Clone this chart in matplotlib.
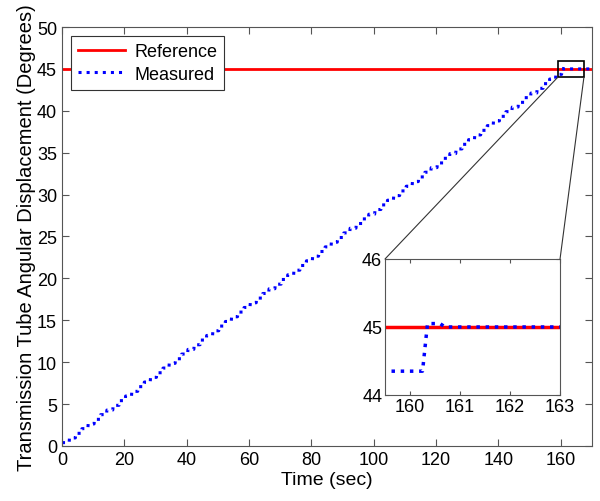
import matplotlib
matplotlib.use('Agg')
import matplotlib.pyplot as plt
from matplotlib.patches import Rectangle, ConnectionPatch
import numpy as np

plt.rcParams['font.family'] = ['Liberation Sans', 'DejaVu Sans']

# reference angle (deg)
ref_level = 45.0

# measured staircase: step start times (sec) and levels (deg)
step_times = [0.0] + [2.3 + 2 * k for k in range(79)]
step_levels = [0.40, 0.96, 1.51, 2.07, 2.63, 3.18, 3.74, 4.29, 4.85, 5.41,
               5.96, 6.52, 7.08, 7.63, 8.19, 8.74, 9.30, 9.86, 10.41, 10.97,
               11.53, 12.08, 12.64, 13.19, 13.75, 14.31, 14.86, 15.42, 15.98, 16.53,
               17.09, 17.65, 18.20, 18.76, 19.31, 19.87, 20.43, 20.98, 21.54, 22.10,
               22.65, 23.21, 23.76, 24.32, 24.88, 25.43, 25.99, 26.55, 27.10, 27.66,
               28.22, 28.77, 29.33, 29.88, 30.44, 31.00, 31.55, 32.11, 32.67, 33.22,
               33.78, 34.33, 34.89, 35.45, 36.00, 36.56, 37.12, 37.67, 38.23, 38.79,
               39.34, 39.90, 40.45, 41.01, 41.57, 42.12, 42.68, 43.24, 43.79, 44.35]
# final settling: overshoot then hold
end_times = [160.25, 160.35, 160.6, 160.7, 170.0]
end_levels = [44.35, 45.05, 45.05, 45.0, 45.0]

# build the staircase path
mx, my = [], []
for i, (t, v) in enumerate(zip(step_times, step_levels)):
    if i > 0:
        mx.append(t)
        my.append(step_levels[i - 1])
        mx.append(t + 0.1)
        my.append(v)
    else:
        mx.append(t)
        my.append(v)
mx += end_times
my += end_levels
mx = np.array(mx)
my = np.array(my)

fig = plt.figure(figsize=(6.0, 5.02), dpi=100)
ax = fig.add_axes([0.1033, 0.1096, 0.8834, 0.8346])

ax.plot([0, 170], [ref_level, ref_level], color='#ff0000', lw=2, label='Reference')
ax.plot(mx, my, color='#0000ff', lw=2.2, ls=':', label='Measured')

ax.set_xlim(0, 170)
ax.set_ylim(0, 50)
ax.set_xticks(range(0, 161, 20))
ax.set_yticks(range(0, 51, 5))
ax.tick_params(direction='in', top=True, right=True, labelsize=13, length=5, color='#555555')
for s in ax.spines.values():
    s.set_color('#555555')
ax.set_xlabel('Time (sec)', fontsize=14, labelpad=2)
ax.set_ylabel('Transmission Tube Angular Displacement (Degrees)', fontsize=14.5, labelpad=1)

leg = ax.legend(loc='upper left', fontsize=13, fancybox=False, framealpha=1,
                edgecolor='#333333', handlelength=2.6, handletextpad=0.5,
                borderaxespad=0.5, labelspacing=0.3)
leg.get_frame().set_linewidth(0.8)

# zoom box
ax.add_patch(Rectangle((159, 44), 8.4, 2, fill=False, ec='black', lw=1.2, zorder=5))

# inset
axi = fig.add_axes([0.6417, 0.2112, 0.2917, 0.2709])
axi.plot([159.5, 163], [ref_level, ref_level], color='#ff0000', lw=2.5)
axi.plot(mx, my, color='#0000ff', lw=2.5, ls=':')
axi.set_xlim(159.5, 163)
axi.set_ylim(44, 46)
axi.set_xticks([160, 161, 162, 163])
axi.set_yticks([44, 45, 46])
axi.tick_params(direction='in', top=True, right=True, labelsize=13, length=3, color='#555555', pad=2)
for s in axi.spines.values():
    s.set_color('#555555')

for xa, xb in [(159, 0), (167.4, 1)]:
    con = ConnectionPatch(xyA=(xa, 44), coordsA=ax.transData,
                          xyB=(xb, 1), coordsB=axi.transAxes,
                          color='#333333', lw=0.8)
    fig.add_artist(con)

fig.savefig('out.png', dpi=100)
